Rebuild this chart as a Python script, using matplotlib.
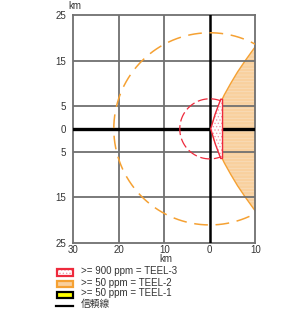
import numpy as np
import matplotlib
matplotlib.use("Agg")
import matplotlib.pyplot as plt
from matplotlib.patches import Polygon, Rectangle

plt.rcParams['font.family'] = ['Liberation Sans', 'DejaVu Sans', 'Noto Sans CJK JP']
plt.rcParams['hatch.linewidth'] = 0.6

# ---- data ----
x_ticks = [-30, -20, -10, 0, 10]
x_tick_labels = ['30', '20', '10', '0', '10']
y_ticks = [25, 15, 5, 0, -5, -15, -25]
y_tick_labels = ['25', '15', '5', '0', '5', '15', '25']
x_grid = [-20, -10]
y_grid = [15, 5, -5, -15]

# confidence circles (km)
teel2_radius = 21.1
teel3_radius = 6.6
teel3_arc_deg = [68, 292]

# TEEL-2 footprint left boundary (upper half, mirrored)
edge_y = [0, 2.5, 5, 7.5, 10, 12.5, 15, 17.5, 20]
edge_x = [0.2, 1.0, 2.0, 3.2, 4.6, 6.1, 7.8, 9.6, 11.5]

# TEEL-3 footprint outline
red_x = [0.2, 1.2, 2.4, 2.8, 2.8, 2.4, 1.2, 0.2]
red_y = [0, 3.3, 6.5, 6.5, -6.5, -6.5, -3.3, 0]

legend_labels = ['>= 900 ppm = TEEL-3', '>= 50 ppm = TEEL-2', '>= 50 ppm = TEEL-1', '信頼線']

ORANGE = '#F5A133'
ORANGE_FILL = '#F9D09E'
RED = '#EE2A3C'
TXT = '#333333'

fig = plt.figure(figsize=(3.0, 3.18), dpi=100)
ax = fig.add_axes([73.3 / 300, 1 - 242.7 / 318, 182 / 300, 227.7 / 318])
ax.set_xlim(-30, 10)
ax.set_ylim(-25, 25)

# grid
for gx in x_grid:
    ax.axvline(gx, color='#707070', lw=1.3, zorder=3)
for gy in y_grid:
    ax.axhline(gy, color='#707070', lw=1.3, zorder=3)
ax.axvline(0, color='black', lw=1.8, zorder=4)
ax.axhline(0, color='black', lw=2.4, zorder=4)

# TEEL-2 footprint
ey = np.array(edge_y)
ex = np.array(edge_x)
top = [(x, y) for x, y in zip(ex, ey)]
bottom = [(x, -y) for x, y in zip(ex[::-1], ey[::-1])]
poly_pts = top + [(40, 20), (40, -20)] + bottom
orange_poly = Polygon(poly_pts, closed=True, facecolor=ORANGE_FILL, edgecolor='none',
                      hatch='-----', zorder=2)
ax.add_patch(orange_poly)
orange_poly._hatch_color = matplotlib.colors.to_rgba('#F8DDBA')
ax.plot(ex, ey, color=ORANGE, lw=1.0, zorder=2.5)
ax.plot(ex, -ey, color=ORANGE, lw=1.0, zorder=2.5)

# TEEL-2 confidence circle
t = np.linspace(0, 2 * np.pi, 400)
ax.plot(teel2_radius * np.cos(t), teel2_radius * np.sin(t), color=ORANGE, lw=1.1,
        dashes=(9, 5), zorder=5)

# TEEL-3 footprint
red_poly = Polygon(list(zip(red_x, red_y)), closed=True, facecolor='white',
                   edgecolor=RED, lw=1.0, hatch='.....', zorder=6)
red_poly._hatch_color = matplotlib.colors.to_rgba('#F49AAA')
ax.add_patch(red_poly)

ta = np.radians(np.linspace(teel3_arc_deg[0], teel3_arc_deg[1], 200))
ax.plot(teel3_radius * np.cos(ta), teel3_radius * np.sin(ta), color=RED, lw=0.9,
        dashes=(8, 3), zorder=6)

ax.set_xticks(x_ticks)
ax.set_xticklabels(x_tick_labels)
ax.set_yticks(y_ticks)
ax.set_yticklabels(y_tick_labels)
ax.tick_params(length=0, labelsize=7, colors=TXT, pad=2)
ax.tick_params(axis='y', pad=5)
for s in ax.spines.values():
    s.set_color('#707070')
    s.set_linewidth(1.3)

# "km" labels
fig.text(75 / 300, 1 - 6 / 318, 'km', ha='center', va='center', fontsize=7, color=TXT)
fig.text(166 / 300, 1 - 259 / 318, 'km', ha='center', va='center', fontsize=7, color=TXT)

# legend (pixel coordinates overlay)
lax = fig.add_axes([0, 0, 1, 1])
lax.set_xlim(0, 300)
lax.set_ylim(318, 0)
lax.axis('off')
box_tops = [269, 280.5, 291.5]
face = ['white', ORANGE_FILL, '#FFFF00']
edge = [RED, ORANGE, 'black']
hatches = ['.....', None, None]
for i in range(3):
    r = Rectangle((56.5, box_tops[i]), 16.5, 6.8, facecolor=face[i], edgecolor=edge[i],
                  lw=1.6, hatch=hatches[i])
    if i == 0:
        r._hatch_color = matplotlib.colors.to_rgba('#F49AAA')
    lax.add_patch(r)
lax.plot([56, 73], [305.5, 305.5], color='black', lw=1.6)
text_y = [271.5, 282.5, 293.5, 304]
for i, lab in enumerate(legend_labels):
    fam = ['Noto Sans CJK JP', 'DejaVu Sans'] if i == 3 else None
    kw = {'family': fam} if fam else {}
    lax.text(81, text_y[i], lab, ha='left', va='center', fontsize=7, color=TXT, **kw)

fig.savefig('out.png', dpi=100)
